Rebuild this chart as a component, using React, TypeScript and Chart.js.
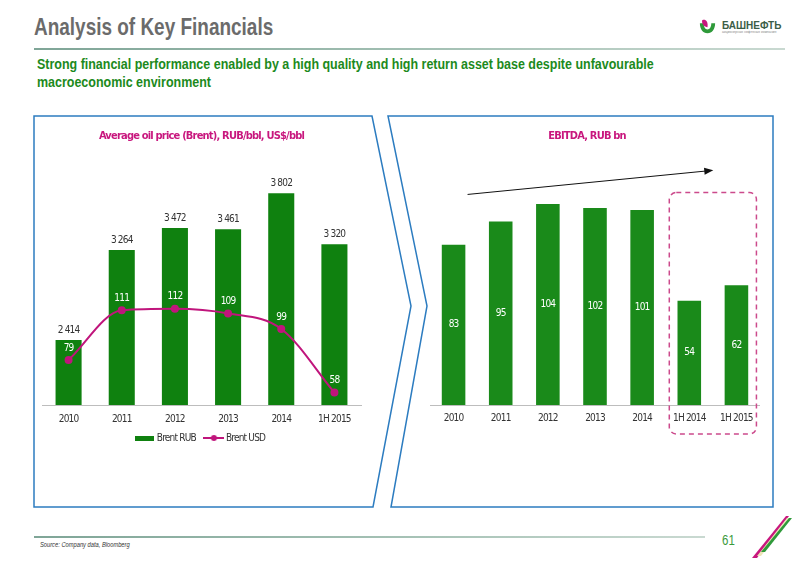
import { useEffect, useRef } from "react";
import { Chart, registerables } from "chart.js";

Chart.register(...registerables);

// ---------- data ----------
const priceCategories = ["2010", "2011", "2012", "2013", "2014", "1H 2015"];
const brentRub = [2414, 3264, 3472, 3461, 3802, 3320];
const brentUsd = [79, 111, 112, 109, 99, 58];

const ebitdaCategories = ["2010", "2011", "2012", "2013", "2014", "1H 2014", "1H 2015"];
const ebitdaValues = [83, 95, 104, 102, 101, 54, 62];

const FONT = "'DejaVu Sans Condensed','DejaVu Sans',sans-serif";
const HFONT = "'Liberation Sans',Arial,sans-serif";
const GREEN = "#0f810f";
const GREEN2 = "#1a8a1a";
const MAGENTA = "#c0157c";
const TITLE_MAGENTA = "#c8177e";
const TEXT = "#333333";
const SPACING = "-0.8px";

const fmtSpace = (v: number) => String(v).replace(/\B(?=(\d{3})+(?!\d))/g, " ");

type LabelItem = {
  dataset: number;
  pos: "top" | "center";
  offset?: number;
  color: string;
  format?: (v: number) => string;
};

// narrow look: tighten letter spacing for all chart text
const narrowText = {
  id: "narrowText",
  beforeInit(chart: any) {
    chart.ctx.letterSpacing = SPACING;
  },
  beforeUpdate(chart: any) {
    chart.ctx.letterSpacing = SPACING;
  },
  beforeDraw(chart: any) {
    chart.ctx.letterSpacing = SPACING;
  },
};

function makeLabelPlugin(id: string, items: LabelItem[]) {
  return {
    id,
    afterDatasetsDraw(chart: any) {
      const { ctx } = chart;
      items.forEach((item) => {
        const meta = chart.getDatasetMeta(item.dataset);
        const ds = chart.data.datasets[item.dataset];
        ctx.save();
        ctx.letterSpacing = SPACING;
        ctx.font = `10px ${FONT}`;
        ctx.fillStyle = item.color;
        ctx.textAlign = "center";
        ctx.textBaseline = "middle";
        meta.data.forEach((el: any, i: number) => {
          const v = ds.data[i] as number;
          const y = item.pos === "center" ? (el.y + el.base) / 2 : el.y - (item.offset || 10);
          ctx.fillText(item.format ? item.format(v) : String(v), el.x, y);
        });
        ctx.restore();
      });
    },
  };
}

const ebitdaDecor = {
  id: "ebitdaDecor",
  afterDraw(chart: any) {
    const { ctx, chartArea } = chart;
    const x = chart.scales.x;
    const y = chart.scales.y;
    // trend arrow
    const x0 = x.getPixelForValue(0) + 14;
    const y0 = y.getPixelForValue(109);
    const x1 = x.getPixelForValue(5) + 24;
    const y1 = y.getPixelForValue(121.5);
    const ang = Math.atan2(y1 - y0, x1 - x0);
    ctx.save();
    ctx.strokeStyle = "#111";
    ctx.fillStyle = "#111";
    ctx.lineWidth = 1;
    ctx.beginPath();
    ctx.moveTo(x0, y0);
    ctx.lineTo(x1 - 8 * Math.cos(ang), y1 - 8 * Math.sin(ang));
    ctx.stroke();
    ctx.beginPath();
    ctx.moveTo(x1, y1);
    ctx.lineTo(x1 - 9 * Math.cos(ang) + 3.5 * Math.sin(ang), y1 - 9 * Math.sin(ang) - 3.5 * Math.cos(ang));
    ctx.lineTo(x1 - 9 * Math.cos(ang) - 3.5 * Math.sin(ang), y1 - 9 * Math.sin(ang) + 3.5 * Math.cos(ang));
    ctx.closePath();
    ctx.fill();
    // dashed highlight box round the half-year bars
    const left = x.getPixelForValue(5) - 20;
    const right = x.getPixelForValue(6) + 20;
    const top = y.getPixelForValue(110);
    const bottom = chartArea.bottom + 29;
    ctx.strokeStyle = "#cc4a8c";
    ctx.lineWidth = 1.5;
    ctx.setLineDash([5, 4]);
    ctx.beginPath();
    (ctx as any).roundRect(left, top, right - left, bottom - top, 7);
    ctx.stroke();
    ctx.restore();
  },
};

function rectImage(color: string) {
  const c = document.createElement("canvas");
  c.width = 19;
  c.height = 5;
  const g = c.getContext("2d")!;
  g.fillStyle = color;
  g.fillRect(0, 0, 19, 5);
  return c;
}

function lineDotImage(color: string) {
  const c = document.createElement("canvas");
  c.width = 21;
  c.height = 8;
  const g = c.getContext("2d")!;
  g.strokeStyle = color;
  g.lineWidth = 2;
  g.beginPath();
  g.moveTo(0, 4);
  g.lineTo(21, 4);
  g.stroke();
  g.fillStyle = color;
  g.beginPath();
  g.arc(10.5, 4, 3, 0, Math.PI * 2);
  g.fill();
  return c;
}

export default function App() {
  const leftRef = useRef<HTMLCanvasElement>(null);
  const rightRef = useRef<HTMLCanvasElement>(null);

  useEffect(() => {
    const rectImg = rectImage(GREEN);
    const lineImg = lineDotImage(MAGENTA);

    const c1 = new Chart(leftRef.current!, {
      type: "bar",
      data: {
        labels: priceCategories,
        datasets: [
          {
            type: "bar",
            label: "Brent RUB",
            data: brentRub,
            backgroundColor: GREEN,
            yAxisID: "y",
            order: 2,
            categoryPercentage: 1,
            barPercentage: 0.49,
          },
          {
            type: "line",
            label: "Brent USD",
            data: brentUsd,
            borderColor: MAGENTA,
            backgroundColor: MAGENTA,
            borderWidth: 2,
            pointRadius: 3,
            pointBackgroundColor: MAGENTA,
            cubicInterpolationMode: "monotone",
            yAxisID: "y2",
            order: 1,
          },
        ] as any,
      },
      options: {
        animation: false,
        responsive: true,
        maintainAspectRatio: false,
        layout: { padding: { top: 0, bottom: 2, left: 0, right: 0 } },
        scales: {
          x: {
            grid: { display: false, drawTicks: false },
            border: { display: true, color: "#bdbdbd", width: 1 },
            ticks: { color: TEXT, font: { family: FONT, size: 10 }, padding: 8 },
            afterFit: (s: any) => {
              s.height = 17;
            },
          },
          y: { display: false, min: 1800, max: 4000 },
          y2: { display: false, min: 50, max: 200 },
        },
        plugins: {
          title: {
            display: true,
            text: "Average oil price (Brent), RUB/bbl, US$/bbl",
            color: TITLE_MAGENTA,
            font: { family: FONT, size: 11, weight: "bold" },
            padding: { top: 4, bottom: 29 },
          },
          legend: {
            display: true,
            position: "bottom",
            labels: {
              color: TEXT,
              font: { family: FONT, size: 10 },
              usePointStyle: true,
              pointStyleWidth: 14,
              padding: 11,
              generateLabels: (chart: any) =>
                chart.data.datasets.map((ds: any, i: number) => ({
                  text: ds.label,
                  pointStyle: i === 0 ? rectImg : lineImg,
                  datasetIndex: i,
                  fillStyle: i === 0 ? GREEN : MAGENTA,
                  strokeStyle: i === 0 ? GREEN : MAGENTA,
                  lineWidth: 0,
                  hidden: false,
                  fontColor: TEXT,
                })),
            },
          },
          tooltip: { enabled: false },
        },
      } as any,
      plugins: [
        narrowText,
        makeLabelPlugin("priceLabels", [
          { dataset: 0, pos: "top", offset: 10, color: TEXT, format: fmtSpace },
          { dataset: 1, pos: "top", offset: 12, color: "#ffffff" },
        ]),
      ],
    });

    const c2 = new Chart(rightRef.current!, {
      type: "bar",
      data: {
        labels: ebitdaCategories,
        datasets: [
          {
            label: "EBITDA",
            data: ebitdaValues,
            backgroundColor: GREEN2,
            categoryPercentage: 1,
            barPercentage: 0.5,
          },
        ],
      },
      options: {
        animation: false,
        responsive: true,
        maintainAspectRatio: false,
        layout: { padding: { top: 0, bottom: 15, left: 0, right: 0 } },
        scales: {
          x: {
            grid: { display: false, drawTicks: false },
            border: { display: true, color: "#bdbdbd", width: 1 },
            ticks: { color: TEXT, font: { family: FONT, size: 10 }, padding: 7 },
            afterFit: (s: any) => {
              s.height = 20;
            },
          },
          y: {
            display: true,
            min: 0,
            max: 120,
            grid: { display: false },
            border: { display: false },
            ticks: { display: false },
            afterFit: (s: any) => {
              s.width = 16;
            },
          },
        },
        plugins: {
          title: {
            display: true,
            text: "EBITDA, RUB bn",
            color: TITLE_MAGENTA,
            font: { family: FONT, size: 11, weight: "bold" },
            padding: { top: 4, bottom: 30 },
          },
          legend: { display: false },
          tooltip: { enabled: false },
        },
      } as any,
      plugins: [
        narrowText,
        makeLabelPlugin("ebitdaLabels", [{ dataset: 0, pos: "center", color: "#ffffff" }]),
        ebitdaDecor,
      ],
    });

    return () => {
      c1.destroy();
      c2.destroy();
    };
  }, []);

  const lineGrad = "linear-gradient(to right, #7fa597, #a9c4b8 60%, #c9d9d1)";
  const narrow = (s: number) => ({ transform: `scaleX(${s})`, transformOrigin: "0 0" });

  return (
    <div
      style={{
        position: "absolute",
        left: 0,
        top: 0,
        width: 800,
        height: 566,
        background: "#ffffff",
        overflow: "hidden",
        fontFamily: HFONT,
      }}
    >
      {/* header */}
      <div
        style={{
          position: "absolute",
          left: 34,
          top: 13,
          fontSize: 24,
          fontWeight: "bold",
          color: "#6b6b6b",
          whiteSpace: "nowrap",
          ...narrow(0.79),
        }}
      >
        Analysis of Key Financials
      </div>
      <svg style={{ position: "absolute", left: 699, top: 18 }} width={17} height={16} viewBox="0 0 22 21">
        <path d="M1 7 C1 15 5 20 11 20 C17 20 21 15 21 7 L16 7 C16 12 14 15 11 15 C8 15 6 12 6 7 Z" fill="#2f9a3a" />
        <path d="M4 3 C8 1 12 4 11 12 C7 12 3 8 4 3 Z" fill="#c8177e" />
      </svg>
      <div style={{ position: "absolute", left: 722, top: 20, fontSize: 10, fontWeight: "bold", color: "#3b5d47", whiteSpace: "nowrap" }}>
        БАШНЕФТЬ
      </div>
      <div style={{ position: "absolute", left: 722, top: 30, fontSize: 3.5, color: "#8a8a8a", whiteSpace: "nowrap" }}>
        акционерная нефтяная компания
      </div>
      <div style={{ position: "absolute", left: 34, top: 48, width: 751, height: 2, background: lineGrad }} />
      <div
        style={{
          position: "absolute",
          left: 37,
          top: 55,
          fontSize: 14.5,
          lineHeight: "18px",
          fontWeight: "bold",
          color: "#1c8a1c",
          whiteSpace: "nowrap",
          ...narrow(0.86),
        }}
      >
        Strong financial performance enabled by a high quality and high return asset base despite unfavourable
        <br />
        macroeconomic environment
      </div>

      {/* panels */}
      <svg style={{ position: "absolute", left: 0, top: 0 }} width={800} height={566}>
        <polygon points="34,116 372,116 411,306 373,507 34,507" fill="none" stroke="#2c7cc0" strokeWidth={1.5} />
        <polygon points="388,116 773,116 773,507 391,507 427,306" fill="none" stroke="#2c7cc0" strokeWidth={1.5} />
        {/* corner stripes */}
        <polygon points="752,558 786,516 789,516 757,558" fill="#c8177e" />
        <polygon points="757,556 787,518 790,518 761,556" fill="#ebe6b8" />
        <polygon points="761,552 789,518 792,518 765,552" fill="#2f9a3a" />
      </svg>

      <div style={{ position: "absolute", left: 36, top: 126, width: 331, height: 329 }}>
        <canvas ref={leftRef} />
      </div>
      <div style={{ position: "absolute", left: 414, top: 126, width: 346, height: 314 }}>
        <canvas ref={rightRef} />
      </div>

      {/* footer */}
      <div style={{ position: "absolute", left: 34, top: 536, width: 671, height: 2, background: lineGrad }} />
      <div
        style={{
          position: "absolute",
          left: 40,
          top: 541,
          fontSize: 7,
          fontStyle: "italic",
          color: "#333",
          whiteSpace: "nowrap",
          ...narrow(0.82),
        }}
      >
        Source: Company data, Bloomberg
      </div>
      <div style={{ position: "absolute", left: 722, top: 532, fontSize: 14, color: "#3a9a3a", ...narrow(0.82) }}>61</div>
    </div>
  );
}
